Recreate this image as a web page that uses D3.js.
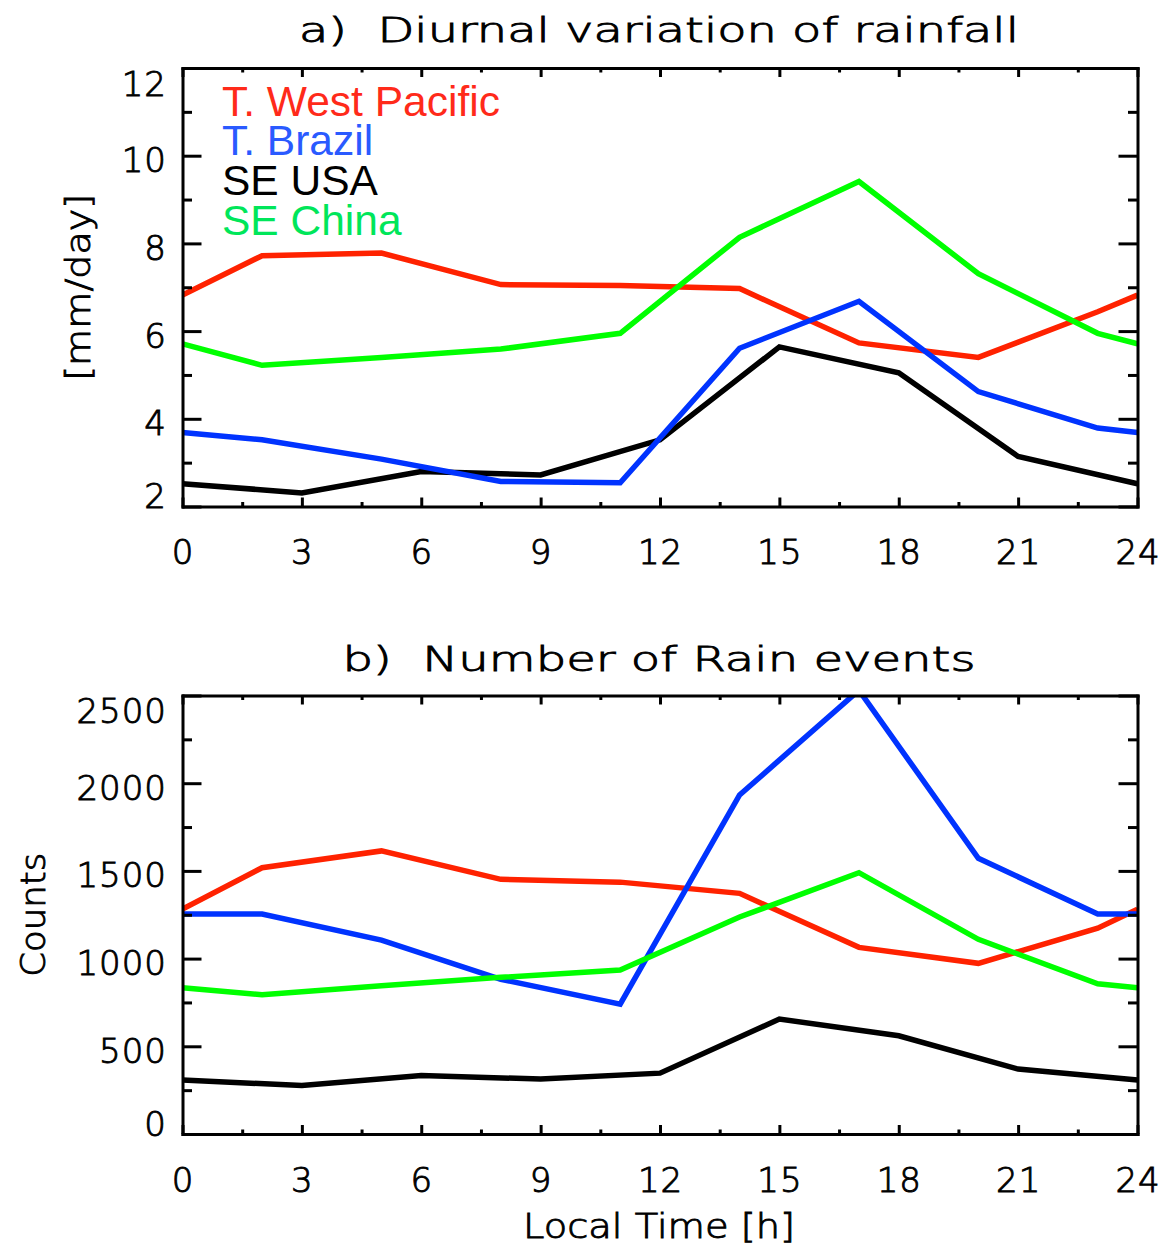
<!DOCTYPE html>
<html>
<head>
<meta charset="utf-8">
<script src="https://cdn.jsdelivr.net/npm/d3@7"></script>
<style>
  html, body { margin: 0; padding: 0; background: #fff; }
  svg { display: block; }
  .hershey { font-family: "DejaVu Sans", sans-serif; font-weight: 200; stroke: #000; stroke-width: 0.9px; }
</style>
</head>
<body>
<svg id="chart" width="1168" height="1257"></svg>
<script>
// Local time of the samples (hours); the first and last points wrap the day.
const hoursRegional = [0, 2, 5, 8, 11, 14, 17, 20, 23, 24];
const hoursUSA = [0, 3, 6, 9, 12, 15, 18, 21, 24];

const seriesNames = ["T. West Pacific", "T. Brazil", "SE USA", "SE China"];

// a) mean rain rate [mm/day]
const rainWestPacific = [6.82, 7.72, 7.78, 7.06, 7.04, 6.97, 5.73, 5.40, 6.44, 6.82];
const rainBrazil      = [3.69, 3.52, 3.08, 2.57, 2.54, 5.61, 6.68, 4.62, 3.79, 3.69];
const rainSEUSA       = [2.52, 2.31, 2.80, 2.72, 3.52, 5.64, 5.05, 3.14, 2.52];
const rainSEChina     = [5.71, 5.22, 5.40, 5.59, 5.95, 8.14, 9.41, 7.31, 5.95, 5.71];

// b) number of rain events
const countWestPacific = [1282, 1518, 1614, 1452, 1436, 1372, 1064, 973, 1173, 1282];
const countBrazil      = [1254, 1254, 1105, 882, 740, 1933, 2530, 1572, 1254, 1254];
const countSEUSA       = [308, 276, 334, 313, 347, 655, 560, 370, 308];
const countSEChina     = [834, 794, 845, 893, 935, 1237, 1490, 1110, 856, 834];

// Tick values
const xMajorTicks = [0, 3, 6, 9, 12, 15, 18, 21, 24];
const xMinorTicks = [1.5, 4.5, 7.5, 10.5, 13.5, 16.5, 19.5, 22.5];
const rainMajorTicks = [2, 4, 6, 8, 10, 12];
const rainMinorTicks = [3, 5, 7, 9, 11];
const countMajorTicks = [0, 500, 1000, 1500, 2000, 2500];
const countMinorTicks = [250, 750, 1250, 1750, 2250];

const lineColors = { "T. West Pacific": "#ff2200", "T. Brazil": "#0033ff", "SE USA": "#000000", "SE China": "#00ff00" };
const legendColors = { "T. West Pacific": "#ff2a1a", "T. Brazil": "#2a5aff", "SE USA": "#000000", "SE China": "#00e65a" };

const svg = d3.select("#chart");
svg.append("rect").attr("width", 1168).attr("height", 1257).attr("fill", "#fff");

const x = d3.scaleLinear().domain([0, 24]).range([182.5, 1137.5]);

function drawPanel(opts) {
  const { id, y, yMajor, yMinor, title, titleLength, titleBaseline, series, yLabel, yLabelX, yLabelLength } = opts;
  const [x0, x1] = x.range();
  const [yb, yt] = y.range();
  const g = svg.append("g").attr("id", id);

  // clip data lines to the plotting box
  g.append("clipPath").attr("id", id + "-clip")
    .append("rect").attr("x", x0).attr("y", yt).attr("width", x1 - x0).attr("height", yb - yt);

  const lines = g.append("g").attr("clip-path", `url(#${id}-clip)`);
  const order = ["SE USA", "T. West Pacific", "T. Brazil", "SE China"];
  order.forEach(name => {
    const s = series[name];
    const pts = s.hours.map((h, i) => [h, s.values[i]]);
    lines.append("path")
      .datum(pts)
      .attr("fill", "none")
      .attr("stroke", lineColors[name])
      .attr("stroke-width", 5.5)
      .attr("stroke-linejoin", "miter")
      .attr("d", d3.line().x(d => x(d[0])).y(d => y(d[1])));
  });

  const axisStyle = sel => {
    sel.selectAll("path.domain").attr("stroke", "#000").attr("stroke-width", 3).attr("stroke-linecap", "square");
    sel.selectAll(".tick line").attr("stroke", "#000").attr("stroke-width", 3);
    sel.selectAll(".tick text").attr("fill", "#000");
  };

  // major and minor ticks on all four sides, pointing inward
  const bottom = g.append("g").attr("transform", `translate(0,${yb})`)
    .call(d3.axisBottom(x).tickValues(xMajorTicks).tickSizeInner(-9).tickSizeOuter(0).tickPadding(33.5).tickFormat(d3.format("d")))
    .call(axisStyle);
  bottom.selectAll(".tick text").attr("class", "hershey").attr("font-size", 34).attr("letter-spacing", 1);
  g.append("g").attr("transform", `translate(0,${yb})`)
    .call(d3.axisBottom(x).tickValues(xMinorTicks).tickSizeInner(-4.5).tickSizeOuter(0).tickFormat(""))
    .call(axisStyle).select("path.domain").remove();
  g.append("g").attr("transform", `translate(0,${yt})`)
    .call(d3.axisTop(x).tickValues(xMajorTicks).tickSizeInner(-9).tickSizeOuter(0).tickFormat(""))
    .call(axisStyle);
  g.append("g").attr("transform", `translate(0,${yt})`)
    .call(d3.axisTop(x).tickValues(xMinorTicks).tickSizeInner(-4.5).tickSizeOuter(0).tickFormat(""))
    .call(axisStyle).select("path.domain").remove();

  const left = g.append("g").attr("transform", `translate(${x0},0)`)
    .call(d3.axisLeft(y).tickValues(yMajor).tickSizeInner(-19).tickSizeOuter(0).tickPadding(15.5).tickFormat(d3.format("d")))
    .call(axisStyle);
  left.selectAll(".tick text").attr("class", "hershey").attr("font-size", 34).attr("letter-spacing", 1)
    .attr("dy", d => {
      // end labels stay inside the axis extent
      const pos = y(d);
      let centre = pos + 3.5;
      centre = Math.max(centre, yt + 15);
      centre = Math.min(centre, yb - 11);
      return (centre - pos + 12.4) + "px";
    });
  g.append("g").attr("transform", `translate(${x0},0)`)
    .call(d3.axisLeft(y).tickValues(yMinor).tickSizeInner(-9.5).tickSizeOuter(0).tickFormat(""))
    .call(axisStyle).select("path.domain").remove();
  g.append("g").attr("transform", `translate(${x1},0)`)
    .call(d3.axisRight(y).tickValues(yMajor).tickSizeInner(-19).tickSizeOuter(0).tickFormat(""))
    .call(axisStyle);
  g.append("g").attr("transform", `translate(${x1},0)`)
    .call(d3.axisRight(y).tickValues(yMinor).tickSizeInner(-9.5).tickSizeOuter(0).tickFormat(""))
    .call(axisStyle).select("path.domain").remove();

  // panel title
  g.append("text").attr("class", "hershey")
    .attr("x", (x0 + x1) / 2 - 1).attr("y", titleBaseline)
    .attr("text-anchor", "middle").attr("font-size", 33)
    .attr("textLength", titleLength).attr("lengthAdjust", "spacingAndGlyphs")
    .attr("xml:space", "preserve")
    .text(title);

  // y-axis title
  g.append("text").attr("class", "hershey")
    .attr("transform", `translate(${yLabelX},${(yb + yt) / 2}) rotate(-90)`)
    .attr("text-anchor", "middle").attr("font-size", 33)
    .attr("textLength", yLabelLength).attr("lengthAdjust", "spacingAndGlyphs")
    .text(yLabel);

  return g;
}

const yRain = d3.scaleLinear().domain([2, 12]).range([506.5, 68]);
const yCount = d3.scaleLinear().domain([0, 2500]).range([1134, 695.5]);

const panelA = drawPanel({
  id: "rainfall", y: yRain, yMajor: rainMajorTicks, yMinor: rainMinorTicks,
  title: "a)  Diurnal variation of rainfall", titleLength: 720, titleBaseline: 42,
  yLabel: "[mm/day]", yLabelX: 90, yLabelLength: 187,
  series: {
    "T. West Pacific": { hours: hoursRegional, values: rainWestPacific },
    "T. Brazil": { hours: hoursRegional, values: rainBrazil },
    "SE USA": { hours: hoursUSA, values: rainSEUSA },
    "SE China": { hours: hoursRegional, values: rainSEChina }
  }
});

const panelB = drawPanel({
  id: "events", y: yCount, yMajor: countMajorTicks, yMinor: countMinorTicks,
  title: "b)  Number of Rain events", titleLength: 633, titleBaseline: 671,
  yLabel: "Counts", yLabelX: 45, yLabelLength: 124,
  series: {
    "T. West Pacific": { hours: hoursRegional, values: countWestPacific },
    "T. Brazil": { hours: hoursRegional, values: countBrazil },
    "SE USA": { hours: hoursUSA, values: countSEUSA },
    "SE China": { hours: hoursRegional, values: countSEChina }
  }
});

// legend in the rainfall panel
panelA.append("g").selectAll("text")
  .data(seriesNames)
  .join("text")
  .attr("x", 222)
  .attr("y", (d, i) => 115.5 + i * 39.8)
  .attr("font-family", "'Liberation Sans', Arial, sans-serif")
  .attr("font-size", 42.5)
  .attr("fill", d => legendColors[d])
  .text(d => d);

// shared x-axis title
svg.append("text").attr("class", "hershey")
  .attr("x", 659).attr("y", 1238)
  .attr("text-anchor", "middle").attr("font-size", 33)
  .attr("textLength", 272).attr("lengthAdjust", "spacingAndGlyphs")
  .text("Local Time [h]");
</script>
</body>
</html>
